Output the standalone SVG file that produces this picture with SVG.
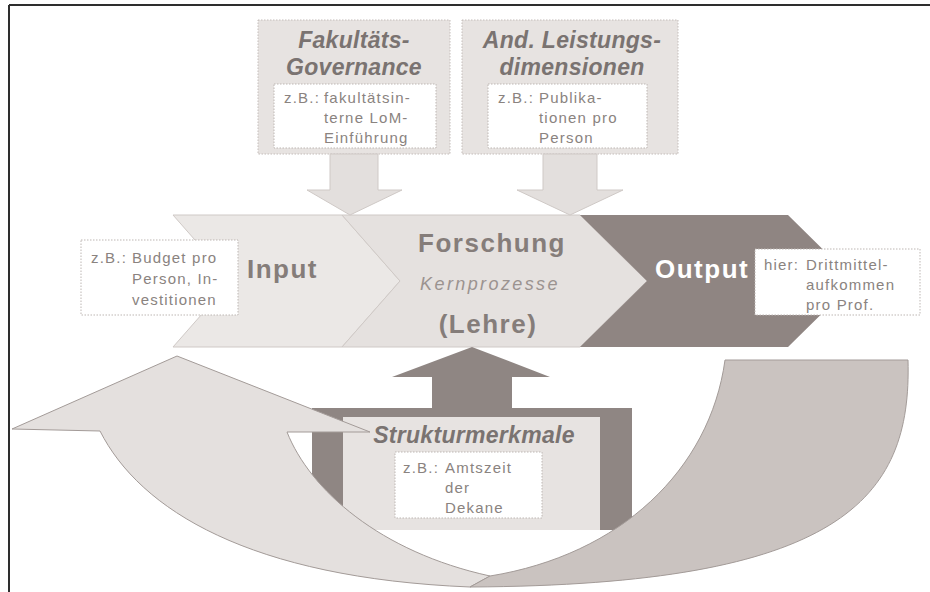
<svg xmlns="http://www.w3.org/2000/svg" width="930" height="592" viewBox="0 0 930 592">
<style>
  .frame { stroke: #2e2e2e; stroke-width: 2; fill: none; }
  .panel { fill: #e7e3e1; stroke: #c4bdba; stroke-width: 1; stroke-dasharray: 1.5 1.5; }
  .note { fill: #ffffff; stroke: #bdb6b3; stroke-width: 1; stroke-dasharray: 1.5 1.5; }
  .title { font-family: "Liberation Sans", Arial, sans-serif; font-weight: bold; font-style: italic; font-size: 23px; fill: #7a7371; text-anchor: middle; letter-spacing: 0.3px; }
  .small { font-family: "Liberation Sans", Arial, sans-serif; font-size: 15px; fill: #8a8380; letter-spacing: 1.2px; }
  .big { font-family: "Liberation Sans", Arial, sans-serif; font-weight: bold; font-size: 26px; fill: #857d7a; letter-spacing: 1.5px; }
  .light { fill: #e6e2e0; stroke: #cfc9c6; stroke-width: 1; }
  .dark { fill: #8f8683; }
</style>

<line class="frame" x1="9" y1="5" x2="930" y2="5"/>
<line class="frame" x1="9" y1="5" x2="9" y2="592"/>

<g id="fakultaets-governance">
  <rect class="panel" x="258" y="20" width="192" height="134"/>
  <text class="title" x="354" y="48">Fakultäts-</text>
  <text class="title" x="354" y="75">Governance</text>
  <rect class="note" x="274" y="84" width="162" height="64"/>
  <text class="small" x="284" y="103">z.B.:</text>
  <text class="small" x="324" y="103">fakultätsin-</text>
  <text class="small" x="324" y="123">terne LoM-</text>
  <text class="small" x="324" y="143">Einführung</text>
</g>

<g id="leistungsdimensionen">
  <rect class="panel" x="462" y="20" width="216" height="134"/>
  <text class="title" x="572" y="48">And. Leistungs-</text>
  <text class="title" x="572" y="75">dimensionen</text>
  <rect class="note" x="488" y="84" width="159" height="64"/>
  <text class="small" x="498" y="103">z.B.:</text>
  <text class="small" x="539" y="103">Publika-</text>
  <text class="small" x="539" y="123">tionen pro</text>
  <text class="small" x="539" y="143">Person</text>
</g>

<g id="input">
  <polygon points="173,215 342,215 400,281 342,347 173,347 231,281" fill="#ebe8e6" stroke="#cfc9c6" stroke-width="1"/>
  <text class="big" x="247" y="278">Input</text>
  <rect class="note" x="81" y="240" width="157" height="75"/>
  <text class="small" x="91" y="263">z.B.:</text>
  <text class="small" x="132" y="263">Budget pro</text>
  <text class="small" x="132" y="284">Person, In-</text>
  <text class="small" x="132" y="305">vestitionen</text>
</g>

<g id="forschung">
  <polygon points="342,215 580,215 647,281 580,347 342,347 400,281" fill="#e5e1df" stroke="#cfc9c6" stroke-width="1"/>
  <text class="big" x="492" y="252" text-anchor="middle">Forschung</text>
  <text x="490" y="290" text-anchor="middle" font-family="Liberation Sans, Arial, sans-serif" font-style="italic" font-size="18" fill="#9b9390" letter-spacing="2.4">Kernprozesse</text>
  <text class="big" x="488" y="333" text-anchor="middle">(Lehre)</text>
</g>

<g id="output">
  <polygon points="580,215 788,215 855,281 788,347 580,347 647,281" fill="#8f8582"/>
  <text class="big" x="655" y="278" fill="#ffffff" style="fill:#ffffff">Output</text>
  <rect class="note" x="755" y="249" width="165" height="66"/>
  <text class="small" x="764" y="270">hier:</text>
  <text class="small" x="806" y="270">Drittmittel-</text>
  <text class="small" x="806" y="290">aufkommen</text>
  <text class="small" x="806" y="310">pro Prof.</text>
</g>

<g id="strukturmerkmale">
  <rect class="dark" x="312" y="408" width="320" height="122"/>
  <rect x="343" y="417" width="257" height="113" fill="#e7e3e1"/>
  <text class="title" x="474" y="443">Strukturmerkmale</text>
  <rect class="note" x="395" y="452" width="147" height="66"/>
  <text class="small" x="403" y="473">z.B.:</text>
  <text class="small" x="445" y="473">Amtszeit</text>
  <text class="small" x="445" y="493">der</text>
  <text class="small" x="445" y="513">Dekane</text>
</g>

<g id="connectors">
  <polygon points="330,154 378,154 378,190 402,190 350,215 307,190 330,190" fill="#e3dfdd" stroke="#cfc9c6" stroke-width="1"/>
  <polygon points="543,154 597,154 597,190 623,190 570,215 517,190 543,190" fill="#e3dfdd" stroke="#cfc9c6" stroke-width="1"/>
  <polygon class="dark" points="432,408 432,377 392,377 472,347 550,377 512,377 512,408"/>
  <path d="M12,429 L177,356 L370,432 L287,432 C310,490 380,552 490,576 L470,587 C250,578 140,510 100,431 Z" fill="#e4e0de" stroke="#a39b98" stroke-width="1"/>
  <path d="M725,360 L908,360 C912,500 840,585 470,587 L490,576 C620,555 710,470 725,360 Z" fill="#cac3c0" stroke="#a39b98" stroke-width="1"/>
</g>
</svg>
